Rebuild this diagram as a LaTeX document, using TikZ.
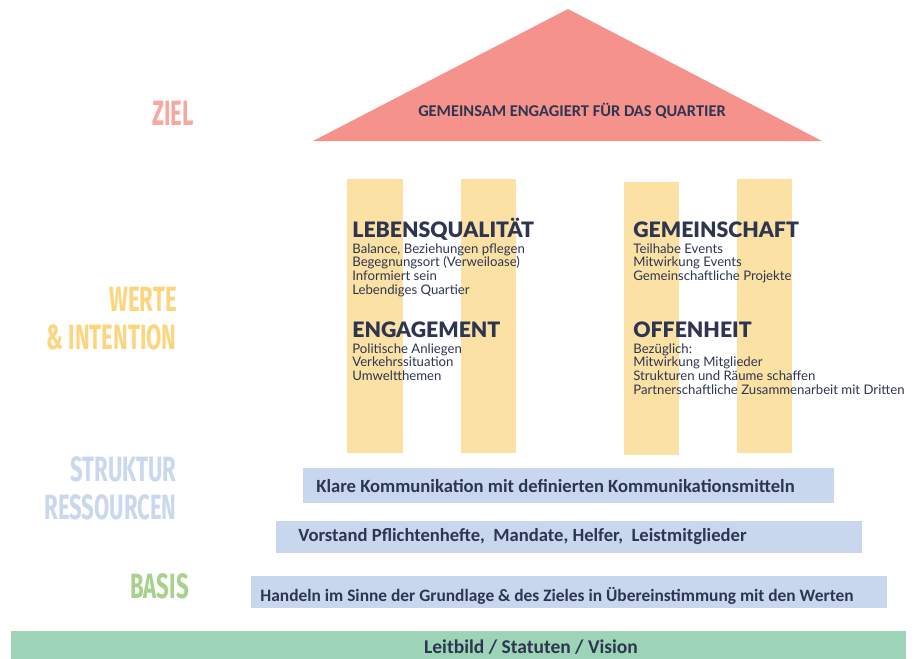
\documentclass[tikz,border=0pt]{standalone}
\usepackage{fontspec}
\setmainfont{Lato}
\newfontfamily\headfont{Lato Black}
\newfontfamily\barfont{Carlito}
\newfontfamily\labelfont[FakeStretch=0.63]{Fira Sans}
\definecolor{roofred}{HTML}{F4928B}
\definecolor{zielpink}{HTML}{F6A9A3}
\definecolor{pillar}{HTML}{FBE1A4}
\definecolor{wertegelb}{HTML}{FDD57E}
\definecolor{barblue}{HTML}{C8D7EE}
\definecolor{strukturblau}{HTML}{C9D8EE}
\definecolor{basisgreen}{HTML}{A9D18E}
\definecolor{basegreen}{HTML}{9DD4B7}
\definecolor{navy}{HTML}{2D3550}
\tikzset{
	heading/.style={anchor=base west, inner sep=0pt, text=navy, font=\headfont\fontsize{12.1}{13}\selectfont},
	bodytext/.style={anchor=north west, inner sep=0pt, align=left, text=navy, font=\fontsize{7.5}{7.8}\selectfont},
	bartext/.style={anchor=base west, inner sep=0pt, text=navy, font=\barfont\bfseries\fontsize{10.6}{12}\selectfont},
	levellabel/.style={inner sep=0pt, font=\labelfont\bfseries\fontsize{20}{21.5}\selectfont},
}
\begin{document}
\begin{tikzpicture}[x=0.02cm,y=-0.02cm]
		\useasboundingbox (0,0) rectangle (914,659);
		\fill[roofred] (568,9) -- (822,141) -- (313,141) -- cycle;
		\fill[pillar] (347,179) rectangle (403,453);
		\fill[pillar] (461,179) rectangle (516,453);
		\fill[pillar] (624,182) rectangle (679,455);
		\fill[pillar] (737,179) rectangle (792,453);
		\fill[barblue] (303,468) rectangle (834,503);
		\fill[barblue] (276,521) rectangle (862,553);
		\fill[barblue] (251,576) rectangle (887,608);
		\fill[basegreen] (11,631) rectangle (906,659);

		\node[levellabel, text=zielpink, anchor=base west] (ziel) at (152,125) {ZIEL};
		\node[levellabel, text=wertegelb, align=right, anchor=south east] (werte) at (177,350) {WERTE\\\& INTENTION};
		\node[levellabel, text=strukturblau, align=right, anchor=south east] (struktur) at (177,520) {STRUKTUR\\RESSOURCEN};
		\node[levellabel, text=basisgreen, anchor=base west] (basis) at (130,598) {BASIS};

		\node[text=navy, inner sep=0pt, anchor=base, font=\barfont\bfseries\fontsize{9.35}{11}\selectfont] (ziel text) at (572,116) {GEMEINSAM ENGAGIERT FÜR DAS QUARTIER};

		\node[heading] (lebensqualitaet) at (352,237) {LEBENSQUALITÄT};
		\node[bodytext] (lebensqualitaet text) at (352,243) {Balance, Beziehungen pflegen\\Begegnungsort (Verweiloase)\\Informiert sein\\Lebendiges Quartier};
		\node[heading] (engagement) at (352,337) {ENGAGEMENT};
		\node[bodytext] (engagement text) at (352,343) {Politische Anliegen\\Verkehrssituation\\Umweltthemen};
		\node[heading] (gemeinschaft) at (633,237) {GEMEINSCHAFT};
		\node[bodytext] (gemeinschaft text) at (633,243) {Teilhabe Events\\Mitwirkung Events\\Gemeinschaftliche Projekte};
		\node[heading] (offenheit) at (633,337) {OFFENHEIT};
		\node[bodytext] (offenheit text) at (633,343) {Bezüglich:\\Mitwirkung Mitglieder\\Strukturen und Räume schaffen\\Partnerschaftliche Zusammenarbeit mit Dritten};

		\node[bartext] (kommunikation) at (316,492) {Klare Kommunikation mit definierten Kommunikationsmitteln};
		\node[bartext] (vorstand) at (298,541) {Vorstand Pflichtenhefte,\ \ Mandate, Helfer,\ \ Leistmitglieder};
		\node[bartext, font=\barfont\bfseries\fontsize{9.9}{12}\selectfont] (handeln) at (260,601) {Handeln im Sinne der Grundlage \& des Zieles in Übereinstimmung mit den Werten};
		\node[bartext, anchor=base, font=\barfont\bfseries\fontsize{11.1}{12}\selectfont] (leitbild) at (531,653) {Leitbild / Statuten / Vision};
	\end{tikzpicture}
\end{document}
